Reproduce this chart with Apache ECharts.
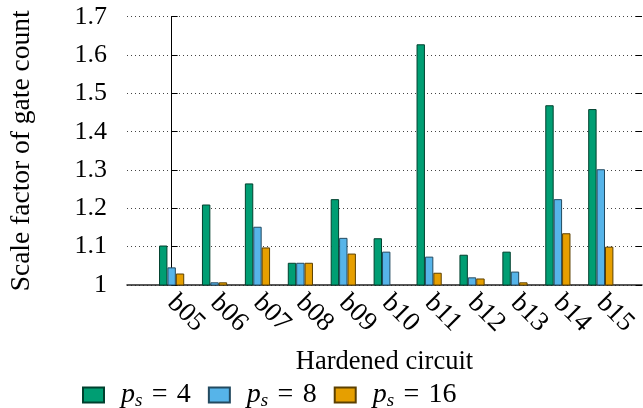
<!DOCTYPE html>
<html><head><meta charset="utf-8">
<script src="https://cdn.jsdelivr.net/npm/echarts@6/dist/echarts.min.js"></script>
<style>html,body{margin:0;padding:0;background:#fff}#c{width:643px;height:408px}</style>
</head><body><div id="c"></div>
<script>
const categories = ['b05','b06','b07','b08','b09','b10','b11','b12','b13','b14','b15'];
const ps4  = [1.103,1.210,1.265,1.058,1.224,1.122,1.628,1.079,1.087,1.469,1.459];
const ps8  = [1.046,1.007,1.152,1.058,1.123,1.087,1.074,1.020,1.035,1.224,1.302];
const ps16 = [1.030,1.007,1.098,1.058,1.082,1.000,1.032,1.017,1.007,1.135,1.100];
const seriesNames = ['p_s = 4','p_s = 8','p_s = 16'];
const yMin = 1, yMax = 1.7, yStep = 0.1;

const FONT = '"Liberation Serif", "Times New Roman", serif';
const fills = ['#009E73','#56B4E9','#E69F00'];
const borders = ['#00402e','#234a60','#5c4000'];
const catIdx = categories.map((c, i) => i);
const values = [ps4, ps8, ps16];

const chart = echarts.init(document.getElementById('c'), null, {renderer:'canvas'});
const yCommon = { type:'value', min:yMin, max:yMax, interval:yStep };
chart.setOption({
  animation:false,
  backgroundColor:'#fff',
  textStyle:{fontFamily:FONT},
  grid:{left:122, right:1, top:16.7, bottom:123, containLabel:false},
  legend:{
    left:77, top:376, itemWidth:21, itemHeight:15, itemGap:17,
    icon:'rect',
    data:seriesNames,
    formatter: name => '{i|p}{s|s}{t|\u2004=\u2004' + name.split(' = ')[1] + '}',
    textStyle:{
      fontFamily:FONT, fontSize:28, color:'#000', padding:[0,0,0,12],
      rich:{
        i:{fontFamily:FONT, fontStyle:'italic', fontSize:28, color:'#000', lineHeight:30, verticalAlign:'middle'},
        s:{fontFamily:FONT, fontStyle:'italic', fontSize:19, color:'#000', lineHeight:19, verticalAlign:'bottom'},
        t:{fontFamily:FONT, fontSize:28, color:'#000', lineHeight:30, verticalAlign:'middle'}
      }
    }
  },
  xAxis:{
    type:'value', min:-1.04, max:10.96,
    name:'Hardened circuit', nameLocation:'middle', nameGap:64,
    nameTextStyle:{fontFamily:FONT, fontSize:26.5, color:'#000'},
    axisLine:{show:true, onZero:false, lineStyle:{color:'#222', width:1.5}},
    axisTick:{show:false},
    axisLabel:{customValues:catIdx, rotate:-45, margin:14, fontFamily:FONT, fontSize:27, color:'#000',
      formatter: v => categories[Math.round(v)] || ''},
    splitLine:{show:false}
  },
  yAxis:[
    Object.assign({}, yCommon, {
      position:'left',
      name:'Scale factor of gate count', nameLocation:'middle', nameGap:91,
      nameTextStyle:{fontFamily:FONT, fontSize:27.5, color:'#000'},
      axisLine:{show:true, lineStyle:{color:'#000', width:1}},
      axisTick:{show:true, inside:true, length:6, lineStyle:{color:'#000'}},
      axisLabel:{margin:20, fontFamily:FONT, fontSize:26, color:'#000',
        formatter: v => Math.abs(v-1) < 1e-9 ? '1' : v.toFixed(1)},
      splitLine:{show:true, lineStyle:{color:'#444', width:1, type:[1,3]}}
    }),
    Object.assign({}, yCommon, {
      position:'right',
      axisLine:{show:false},
      axisTick:{show:true, inside:true, length:6, lineStyle:{color:'#000'}},
      axisLabel:{show:false},
      splitLine:{show:false}
    })
  ],
  series: seriesNames.map((n, k) => ({
    name:n, type:'bar', yAxisIndex:0,
    data: values[k].map((v, i) => [catIdx[i], v]),
    barWidth:8.4, barGap:'0%',
    itemStyle:{color:fills[k], borderColor:borders[k], borderWidth:1}
  }))
});
</script></body></html>
